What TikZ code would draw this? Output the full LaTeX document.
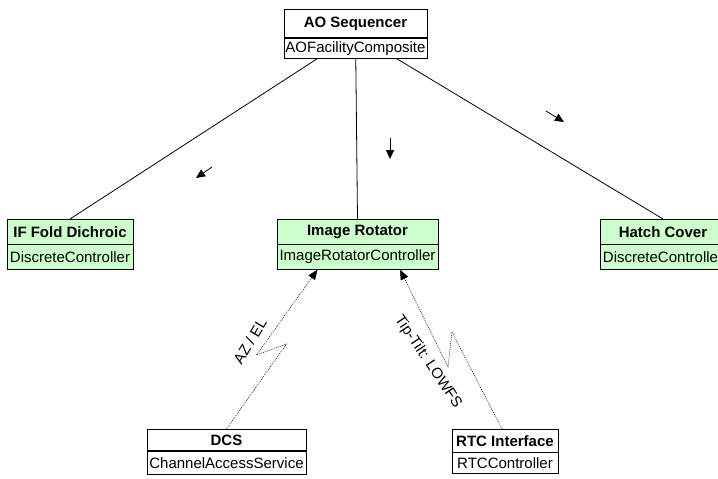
\documentclass[tikz,border=0pt]{standalone}
\usepackage{fontspec}
\setmainfont{Liberation Sans}
\usetikzlibrary{positioning,fit,arrows.meta}
\definecolor{classgreen}{RGB}{204,255,204}
\tikzset{
	cls/.style={draw, line width=0.8pt, inner sep=0pt, font=\fontsize{15}{17}\selectfont},
	clshead/.style={cls, font=\fontsize{15}{17}\selectfont\bfseries},
	assoc/.style={line width=0.8pt},
	dep/.style={line width=0.5pt, dash pattern=on 1pt off 1pt, -{Triangle[length=10pt,width=8pt]}},
	nav/.style={line width=0.8pt, -{Triangle[length=9pt,width=8pt]}},
	lbl/.style={font=\fontsize{15}{17}\selectfont, inner sep=0pt}
}
\begin{document}
\begin{tikzpicture}[x=1pt, y=-1pt] % pixel grid, y down
		\useasboundingbox (0,0) rectangle (718,479);
		\begin{scope}
			\clip (0,0) rectangle (718,479);

			% top composite
			\node[clshead, minimum width=143pt, minimum height=28pt, anchor=north] (seq) at (355.5,9) {AO Sequencer};
			\node[cls, minimum width=143pt, minimum height=20pt, below=0pt of seq] (seqtype) {AOFacilityComposite};
			\node[fit=(seq)(seqtype), inner sep=0pt] (seqbox) {};

			% controllers
			\node[clshead, fill=classgreen, minimum width=126pt, minimum height=24.5pt, anchor=north] (fold) at (70,219) {IF Fold Dichroic};
			\node[cls, fill=classgreen, minimum width=126pt, minimum height=24.5pt, below=0pt of fold] (foldtype) {DiscreteController};

			\node[clshead, fill=classgreen, minimum width=161pt, minimum height=24.5pt, anchor=north] (rot) at (357.5,219) {Image Rotator};
			\node[cls, fill=classgreen, minimum width=161pt, minimum height=24.5pt, below=0pt of rot] (rottype) {ImageRotatorController};

			\node[clshead, fill=classgreen, minimum width=126pt, minimum height=24.5pt, anchor=north] (hatch) at (663,219) {Hatch Cover};
			\node[cls, fill=classgreen, minimum width=126pt, minimum height=24.5pt, below=0pt of hatch] (hatchtype) {DiscreteController};

			% services
			\node[clshead, minimum width=159pt, minimum height=21pt, anchor=north] (dcs) at (226.5,429) {DCS};
			\node[cls, minimum width=159pt, minimum height=23.5pt, below=0pt of dcs] (dcstype) {ChannelAccessService};

			\node[clshead, minimum width=106pt, minimum height=22.5pt, anchor=north] (rtc) at (505,429) {RTC Interface};
			\node[cls, minimum width=106pt, minimum height=21pt, below=0pt of rtc] (rtctype) {RTCController};

			% associations
			\draw[assoc] (seqbox) -- (fold.north);
			\draw[assoc] (seqbox) -- (rot.north);
			\draw[assoc] (seqbox) -- (hatch.north);

			\draw[nav] (212,167) -- (196,178);
			\draw[nav] (390,138) -- (390,159);
			\draw[nav] (546,111) -- (564,122);

			% dependencies
			\draw[dep] (dcs.north) -- ++(60,-85) -- ++(-30,11) -- ([xshift=-40pt]rottype.south);
			\draw[dep] ([xshift=-3pt]rtc.north) -- ++(-50,-97) -- ++(-4,35) -- ([xshift=42.5pt]rottype.south);

			\node[lbl, rotate=59] (azel) at (250,341) {AZ / EL};
			\node[lbl, rotate=-56] (tiptilt) at (428,362) {Tip-Tilt: LOWFS};
		\end{scope}
\end{tikzpicture}
\end{document}
